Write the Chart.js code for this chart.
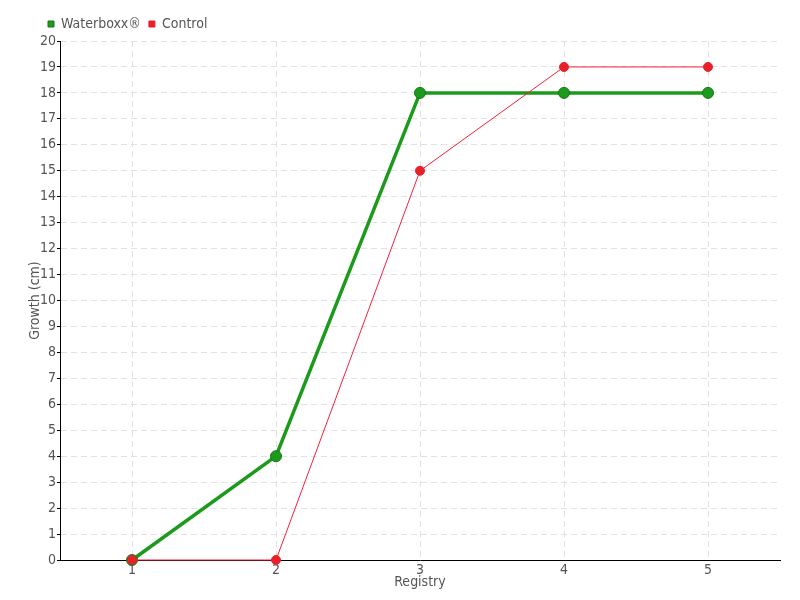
<!DOCTYPE html>
<html>
<head>
<meta charset="utf-8">
<script src="https://cdn.jsdelivr.net/npm/chart.js@4"></script>
<style>
  html, body { margin: 0; padding: 0; background: #fff; }
  #wrap { width: 800px; height: 600px; }
</style>
</head>
<body>
<div id="wrap"><canvas id="growthChart" width="800" height="600"></canvas></div>
<script>
const registry = ["1", "2", "3", "4", "5"];
const waterboxx = [0, 4, 18, 18, 18];
const control = [0, 0, 15, 19, 19];

const FONT = "'DejaVu Sans Condensed', 'DejaVu Sans', sans-serif";
const TEXT = "#555555";

// push the legend to the right so it starts near the plot's left edge
const legendShift = {
  id: "legendShift",
  afterLayout(chart) {
    chart.legend.left += 18;
  }
};

const ctx = document.getElementById("growthChart").getContext("2d");
new Chart(ctx, {
  type: "line",
  data: {
    labels: registry,
    datasets: [
      {
        label: "Control",
        data: control,
        borderColor: "#f5213a",
        backgroundColor: "#e8202a",
        borderWidth: 1,
        pointRadius: 4.5,
        pointBorderWidth: 1,
        pointBorderColor: "#e8202a",
        pointBackgroundColor: "#e8202a",
        tension: 0,
        clip: false
      },
      {
        label: "Waterboxx®",
        data: waterboxx,
        borderColor: "#1c9a1c",
        backgroundColor: "#1c9a1c",
        borderWidth: 3.5,
        pointRadius: 5.5,
        pointBorderWidth: 1,
        pointBorderColor: "#16761a",
        pointBackgroundColor: "#1c9a1c",
        tension: 0,
        clip: false
      }
    ]
  },
  plugins: [legendShift],
  options: {
    responsive: false,
    animation: false,
    layout: { padding: { top: 9, right: 20, bottom: 4, left: 22 } },
    plugins: {
      legend: {
        position: "top",
        align: "start",
        labels: {
          usePointStyle: true,
          pointStyle: "rect",
          boxWidth: 6,
          boxHeight: 6,
          padding: 8,
          color: TEXT,
          font: { family: FONT, size: 14 },
          sort: (a, b) => b.datasetIndex - a.datasetIndex
        }
      },
      tooltip: { enabled: false }
    },
    scales: {
      x: {
        offset: true,
        grid: {
          offset: false,
          color: "#e2e2e2",
          borderDash: [6, 4],
          drawTicks: false
        },
        border: { color: "#000", width: 1, dash: [6, 4] },
        ticks: { color: TEXT, padding: 2, font: { family: FONT, size: 14 } },
        title: {
          display: true,
          text: "Registry",
          color: TEXT,
          padding: { top: 0, bottom: 5 },
          font: { family: FONT, size: 14 }
        },
        afterFit: s => { s.height = 36; }
      },
      y: {
        min: 0,
        max: 20,
        grid: {
          color: "#e2e2e2",
          tickColor: "#000",
          tickLength: 3,
          tickBorderDash: [],
          tickBorderDashOffset: 0
        },
        border: { color: "#000", width: 1, dash: [6, 4] },
        ticks: {
          stepSize: 1,
          color: TEXT,
          padding: 1,
          font: { family: FONT, size: 14 }
        },
        title: {
          display: true,
          text: "Growth (cm)",
          color: TEXT,
          padding: { top: 5, bottom: 0 },
          font: { family: FONT, size: 14 }
        },
        afterFit: s => { s.width = 38; }
      }
    }
  }
});
</script>
</body>
</html>
